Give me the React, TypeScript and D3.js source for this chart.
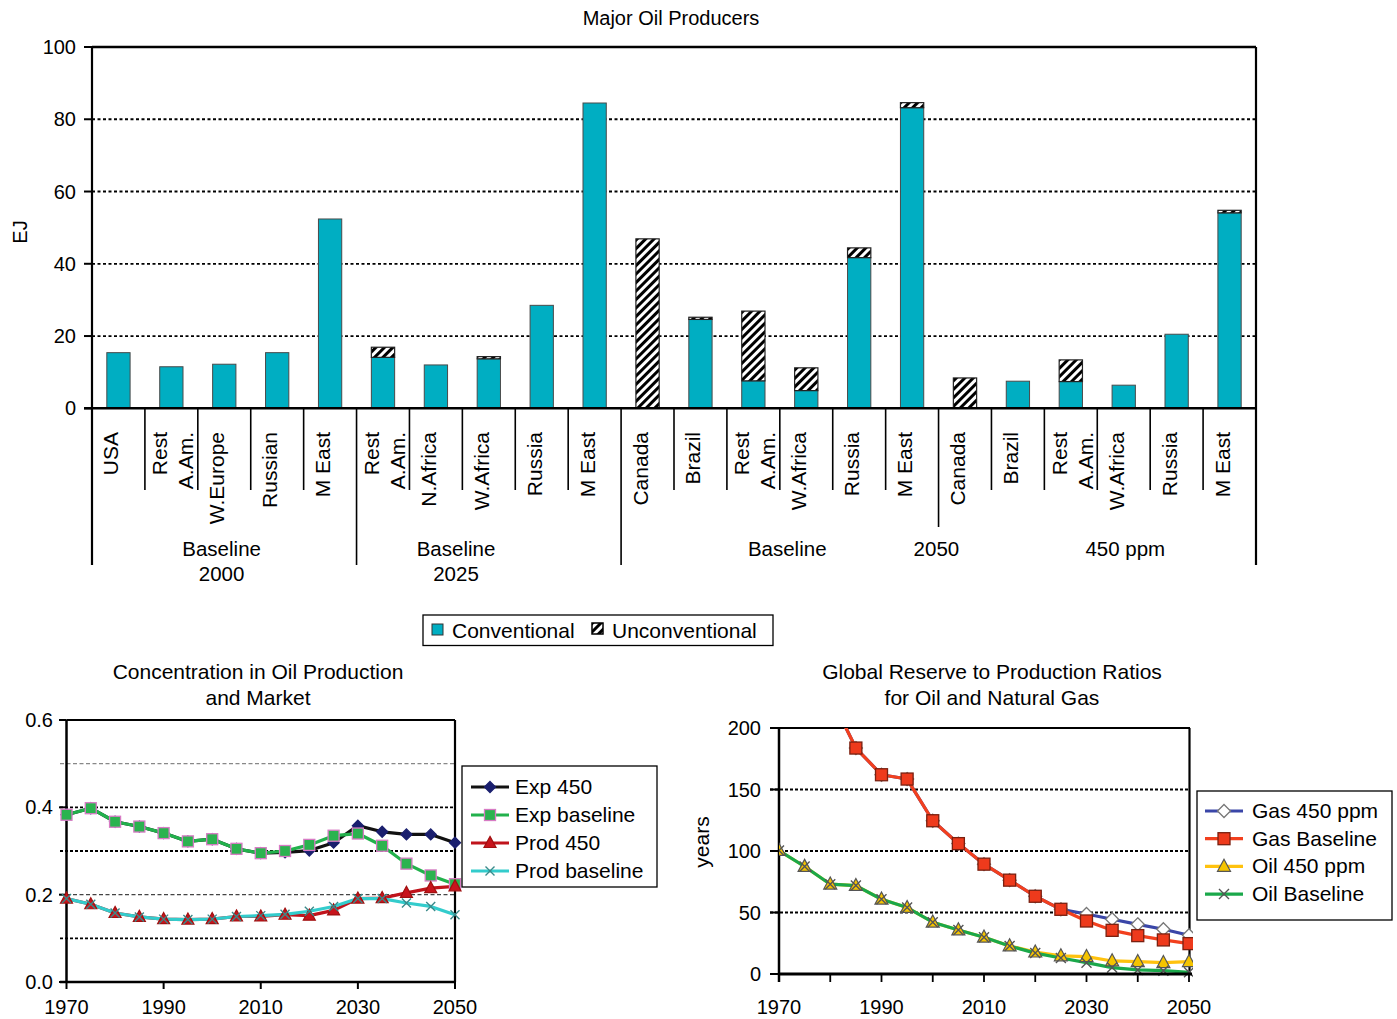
import React from 'react';
import * as d3 from 'd3';

const FONT = '"Liberation Sans", Arial, Helvetica, sans-serif';

// ---------- Top chart data ----------
const producerLabels: string[][] = [
  ['USA'], ['Rest', 'A.Am.'], ['W.Europe'], ['Russian'], ['M East'],
  ['Rest', 'A.Am.'], ['N.Africa'], ['W.Africa'], ['Russia'], ['M East'],
  ['Canada'], ['Brazil'], ['Rest', 'A.Am.'], ['W.Africa'], ['Russia'], ['M East'],
  ['Canada'], ['Brazil'], ['Rest', 'A.Am.'], ['W.Africa'], ['Russia'], ['M East'],
];
const conventional = [15.4, 11.5, 12.2, 15.4, 52.4, 14.1, 12.0, 13.7, 28.5, 84.5, 0, 24.6, 7.6, 4.9, 41.7, 83.2, 0, 7.5, 7.4, 6.4, 20.5, 54.1];
const unconventional = [0, 0, 0, 0, 0, 2.8, 0, 0.6, 0, 0, 46.9, 0.6, 19.3, 6.3, 2.7, 1.4, 8.4, 0, 6.0, 0, 0, 0.7];
const topTicks = [0, 20, 40, 60, 80, 100];
const groupLabelLines: string[][] = [['Baseline', '2000'], ['Baseline', '2025'], ['Baseline'], ['2050'], ['450 ppm']];
const groupLabelAt = [2.45, 6.88, 13.14, 15.96, 19.53];

// ---------- Lower-left data ----------
const years = [1970, 1975, 1980, 1985, 1990, 1995, 2000, 2005, 2010, 2015, 2020, 2025, 2030, 2035, 2040, 2045, 2050];
const exp450 = [0.383, 0.398, 0.367, 0.356, 0.341, 0.322, 0.327, 0.305, 0.295, 0.297, 0.301, 0.319, 0.358, 0.344, 0.338, 0.338, 0.319];
const expBaseline = [0.383, 0.398, 0.367, 0.356, 0.341, 0.322, 0.327, 0.305, 0.295, 0.300, 0.314, 0.335, 0.340, 0.312, 0.271, 0.244, 0.224];
const prod450 = [0.191, 0.178, 0.158, 0.149, 0.144, 0.143, 0.144, 0.150, 0.150, 0.154, 0.152, 0.164, 0.191, 0.192, 0.204, 0.215, 0.219];
const prodBaseline = [0.191, 0.178, 0.158, 0.149, 0.144, 0.143, 0.144, 0.150, 0.152, 0.155, 0.162, 0.173, 0.191, 0.191, 0.181, 0.173, 0.154];
const llYTicks = [0, 0.2, 0.4, 0.6];
const llGrid = [0.1, 0.2, 0.3, 0.4, 0.5];
const llXTicks = [1970, 1990, 2010, 2030, 2050];
const llLegend = ['Exp 450', 'Exp baseline', 'Prod 450', 'Prod baseline'];

// ---------- Lower-right data ----------
const gas450: (number | null)[] = [null, null, 226, 183.7, 162, 158.5, 124.6, 106, 89.3, 76.3, 63.2, 52.6, 48.8, 44.5, 40.4, 36.4, 31.5];
const gasBaseline: (number | null)[] = [null, null, 226, 183.7, 162, 158.5, 124.6, 106, 89.3, 76.3, 63.2, 52.6, 43.1, 35.5, 31.2, 27.7, 24.7];
const oil450 = [100.4, 87.4, 73, 71.9, 60.8, 54, 42.1, 35.8, 29.9, 22.8, 17.8, 14.7, 14.1, 10.6, 10, 9.2, 10];
const oilBaseline = [100.4, 87.4, 73, 71.9, 60.8, 54, 42.1, 35.8, 29.9, 22.8, 17.0, 13.0, 9.2, 5.2, 3.3, 2.7, 1.4];
const lrYTicks = [0, 50, 100, 150, 200];
const lrXTicks = [1970, 1990, 2010, 2030, 2050];
const lrMinorX = [1970, 1980, 1990, 2000, 2010, 2020, 2030, 2040, 2050];
const lrLegend = ['Gas 450 ppm', 'Gas Baseline', 'Oil 450 ppm', 'Oil Baseline'];

const TEAL = '#00aec2';

type MarkerKind = 'diamond' | 'square' | 'triangle' | 'x' | 'whiteDiamond';

function Marker({ kind, x, y, fill, stroke, r }: { kind: MarkerKind; x: number; y: number; fill: string; stroke: string; r: number }) {
  if (kind === 'square') {
    return <rect x={x - r} y={y - r} width={2 * r} height={2 * r} fill={fill} stroke={stroke} strokeWidth={1.3} />;
  }
  if (kind === 'diamond' || kind === 'whiteDiamond') {
    return <path d={`M${x},${y - r}L${x + r},${y}L${x},${y + r}L${x - r},${y}Z`} fill={fill} stroke={stroke} strokeWidth={1.3} />;
  }
  if (kind === 'triangle') {
    return <path d={`M${x},${y - r * 1.1}L${x + r},${y + r * 0.75}L${x - r},${y + r * 0.75}Z`} fill={fill} stroke={stroke} strokeWidth={1.2} />;
  }
  return <path d={`M${x - r},${y - r}L${x + r},${y + r}M${x - r},${y + r}L${x + r},${y - r}`} stroke={stroke} strokeWidth={1.4} fill="none" />;
}

export default function App() {
  const W = 1397, H = 1019;

  // ----- top chart -----
  const tL = 92, tR = 1256, tT = 47, tB = 408.3;
  const xb = d3.scaleBand<number>().domain(d3.range(producerLabels.length)).range([tL, tR]).padding(0);
  const yb = d3.scaleLinear().domain([0, 100]).range([tB, tT]);
  const step = xb.step();
  const barW = step * 0.44;
  const boundaryDepth = (i: number) => (i === 0 || i === 5 || i === 10 || i === 22 ? 565 : i === 16 ? 527 : 490);

  // ----- lower-left -----
  const xl = d3.scaleLinear().domain([1970, 2050]).range([66.5, 455]);
  const yl = d3.scaleLinear().domain([0, 0.6]).range([982, 720]);
  const lineL = d3.line<number>().x((_, i) => xl(years[i])).y((d) => yl(d));

  // ----- lower-right -----
  const xr = d3.scaleLinear().domain([1970, 2050]).range([779, 1189]);
  const yr = d3.scaleLinear().domain([0, 200]).range([974, 728]);
  const lineR = d3.line<number | null>().defined((d) => d != null).x((_, i) => xr(years[i])).y((d) => yr(d as number));

  const llSeries = [
    { data: exp450, color: '#111111', kind: 'diamond' as MarkerKind, mFill: '#1a1f6e', mStroke: '#1a1f6e', r: 5.5 },
    { data: expBaseline, color: '#22b14c', kind: 'square' as MarkerKind, mFill: '#2bb34f', mStroke: '#d77bc4', r: 5.5 },
    { data: prod450, color: '#c0141c', kind: 'triangle' as MarkerKind, mFill: '#c8141c', mStroke: '#a01010', r: 6 },
    { data: prodBaseline, color: '#33cccc', kind: 'x' as MarkerKind, mFill: 'none', mStroke: '#3a8a8a', r: 4.5 },
  ];
  const lrSeries = [
    { data: gas450, color: '#3a46a8', kind: 'whiteDiamond' as MarkerKind, mFill: '#ffffff', mStroke: '#777777', r: 6.5 },
    { data: gasBaseline, color: '#f2401e', kind: 'square' as MarkerKind, mFill: '#ee3a1c', mStroke: '#7a2010', r: 6 },
    { data: oil450, color: '#ffc20e', kind: 'triangle' as MarkerKind, mFill: '#f5c400', mStroke: '#555555', r: 6.5 },
    { data: oilBaseline, color: '#1aa84a', kind: 'x' as MarkerKind, mFill: 'none', mStroke: '#555555', r: 5 },
  ];

  return (
    <svg width={W} height={H} style={{ position: 'absolute', left: 0, top: 0, background: '#fff' }} fontFamily={FONT}>
      <defs>
        <pattern id="hatch" patternUnits="userSpaceOnUse" width="6" height="6" patternTransform="rotate(45)">
          <rect width="6" height="6" fill="#fff" />
          <line x1="1.5" y1="0" x2="1.5" y2="6" stroke="#000" strokeWidth="3" />
        </pattern>
        <clipPath id="lrClip">
          <rect x={779} y={728} width={1189 - 779 + 4} height={974 - 728 + 6} />
        </clipPath>
      </defs>
      <rect x={0} y={0} width={W} height={H} fill="#fff" />

      {/* ================= TOP CHART ================= */}
      <text x={671} y={25} textAnchor="middle" fontSize={20}>Major Oil Producers</text>
      <text transform={`translate(27,${232}) rotate(-90)`} textAnchor="middle" fontSize={20}>EJ</text>

      {/* grid */}
      {topTicks.filter((t) => t > 0 && t < 100).map((t) => (
        <line key={'g' + t} x1={tL} x2={tR} y1={yb(t)} y2={yb(t)} stroke="#000" strokeWidth={1.8} strokeDasharray="3,2.5" />
      ))}
      {/* y ticks */}
      {topTicks.map((t) => (
        <g key={'yt' + t}>
          <line x1={84} x2={tL} y1={yb(t)} y2={yb(t)} stroke="#000" strokeWidth={2} />
          <text x={76} y={yb(t) + 7} textAnchor="end" fontSize={20}>{t}</text>
        </g>
      ))}

      {/* bars */}
      {conventional.map((c, i) => {
        const cx = (xb(i) as number) + step / 2;
        const u = unconventional[i];
        return (
          <g key={'bar' + i}>
            {c > 0 && (
              <rect x={cx - barW / 2} y={yb(c)} width={barW} height={yb(0) - yb(c)} fill={TEAL} stroke="#4a4a4a" strokeWidth={1} />
            )}
            {u > 0 && (
              <rect x={cx - barW / 2} y={yb(c + u)} width={barW} height={yb(c) - yb(c + u)} fill="url(#hatch)" stroke="#222" strokeWidth={1.2} />
            )}
          </g>
        );
      })}

      {/* frame */}
      <line x1={tL} x2={tR} y1={tT} y2={tT} stroke="#000" strokeWidth={2.5} />
      <line x1={84} x2={tR} y1={tB} y2={tB} stroke="#000" strokeWidth={2.5} />
      {d3.range(producerLabels.length + 1).map((i) => {
        const bx = i === producerLabels.length ? tR : (xb(i) as number);
        return (
          <line key={'div' + i} x1={bx} x2={bx} y1={i === 0 || i === producerLabels.length ? tT : tB} y2={boundaryDepth(i)} stroke="#000" strokeWidth={i === 0 || i === producerLabels.length ? 2.2 : 1.6} />
        );
      })}

      {/* category labels */}
      {producerLabels.map((lines, i) => {
        const cx = (xb(i) as number) + step / 2;
        if (lines.length === 1) {
          return (
            <text key={'cl' + i} transform={`translate(${cx},432) rotate(-90)`} textAnchor="end" fontSize={21}>{lines[0]}</text>
          );
        }
        return (
          <g key={'cl' + i}>
            <text transform={`translate(${cx - 4},432) rotate(-90)`} textAnchor="end" fontSize={21}>{lines[0]}</text>
            <text transform={`translate(${cx + 22},432) rotate(-90)`} textAnchor="end" fontSize={21}>{lines[1]}</text>
          </g>
        );
      })}

      {/* group labels */}
      {groupLabelLines.map((lines, gi) => (
        <g key={'gl' + gi}>
          {lines.map((ln, li) => (
            <text key={li} x={tL + groupLabelAt[gi] * step} y={556 + li * 25} textAnchor="middle" fontSize={20.5}>{ln}</text>
          ))}
        </g>
      ))}

      {/* top legend */}
      <rect x={423} y={615} width={350} height={30.5} fill="#fff" stroke="#000" strokeWidth={1.3} />
      <rect x={432} y={624} width={11} height={11} fill={TEAL} stroke="#333" strokeWidth={1} />
      <text x={452} y={637.5} fontSize={21}>Conventional</text>
      <rect x={592} y={623} width={11} height={11} fill="url(#hatch)" stroke="#000" strokeWidth={1.5} />
      <text x={612} y={637.5} fontSize={21}>Unconventional</text>

      {/* ================= LOWER LEFT ================= */}
      <text x={258} y={679} textAnchor="middle" fontSize={21}>Concentration in Oil Production</text>
      <text x={258} y={705} textAnchor="middle" fontSize={21}>and Market</text>
      {llGrid.map((g) => {
        const grey = g === 0.5 || g === 0.2;
        return (
          <line key={'llg' + g} x1={60} x2={455} y1={yl(g)} y2={yl(g)} stroke={grey ? (g === 0.5 ? '#888' : '#444') : '#000'} strokeWidth={grey ? 1.3 : 1.8} strokeDasharray={grey ? '4,2.5' : '3,2'} />
        );
      })}
      {llYTicks.map((t) => (
        <g key={'llyt' + t}>
          <line x1={59} x2={66.5} y1={yl(t)} y2={yl(t)} stroke="#000" strokeWidth={2} />
          <text x={53} y={yl(t) + 7} textAnchor="end" fontSize={20}>{t.toFixed(1)}</text>
        </g>
      ))}
      {llXTicks.map((t) => (
        <g key={'llxt' + t}>
          <line x1={xl(t)} x2={xl(t)} y1={982} y2={989} stroke="#000" strokeWidth={2} />
          <text x={xl(t)} y={1014} textAnchor="middle" fontSize={20}>{t}</text>
        </g>
      ))}
      <line x1={66.5} x2={455} y1={720} y2={720} stroke="#000" strokeWidth={2.2} />
      <line x1={455} x2={455} y1={720} y2={982} stroke="#000" strokeWidth={2.2} />
      <line x1={66.5} x2={66.5} y1={720} y2={982} stroke="#000" strokeWidth={2.5} />
      <line x1={60} x2={455} y1={982} y2={982} stroke="#000" strokeWidth={2.5} />

      {llSeries.map((s, si) => (
        <path key={'lll' + si} d={lineL(s.data) || ''} fill="none" stroke={s.color} strokeWidth={3.2} strokeLinejoin="round" />
      ))}
      {llSeries.map((s, si) => (
        <g key={'llm' + si}>
          {s.data.map((v, i) => (
            <Marker key={i} kind={s.kind} x={xl(years[i])} y={yl(v)} fill={s.mFill} stroke={s.mStroke} r={s.r} />
          ))}
        </g>
      ))}

      {/* lower-left legend */}
      <rect x={462} y={766} width={195} height={121} fill="#fff" stroke="#000" strokeWidth={1.3} />
      {llLegend.map((name, i) => {
        const s = llSeries[i];
        const yy = 787 + i * 28;
        return (
          <g key={'lll' + name}>
            <line x1={471} x2={509} y1={yy} y2={yy} stroke={s.color} strokeWidth={3.2} />
            <Marker kind={s.kind} x={490} y={yy} fill={s.mFill} stroke={s.mStroke} r={s.r} />
            <text x={515} y={yy + 7} fontSize={21}>{name}</text>
          </g>
        );
      })}

      {/* ================= LOWER RIGHT ================= */}
      <text x={992} y={679} textAnchor="middle" fontSize={21}>Global Reserve to Production Ratios</text>
      <text x={992} y={705} textAnchor="middle" fontSize={21}>for Oil and Natural Gas</text>
      <text transform={`translate(709,842) rotate(-90)`} textAnchor="middle" fontSize={21}>years</text>
      {[50, 100, 150].map((g) => (
        <line key={'lrg' + g} x1={770} x2={1189} y1={yr(g)} y2={yr(g)} stroke="#000" strokeWidth={1.8} strokeDasharray="3,2" />
      ))}
      {lrYTicks.map((t) => (
        <g key={'lryt' + t}>
          <line x1={770} x2={779} y1={yr(t)} y2={yr(t)} stroke="#000" strokeWidth={2} />
          <text x={761} y={yr(t) + 7} textAnchor="end" fontSize={20}>{t}</text>
        </g>
      ))}
      {lrMinorX.map((t) => (
        <line key={'lrmx' + t} x1={xr(t)} x2={xr(t)} y1={974} y2={982} stroke="#000" strokeWidth={1.8} />
      ))}
      {lrXTicks.map((t) => (
        <text key={'lrxt' + t} x={xr(t)} y={1014} textAnchor="middle" fontSize={20}>{t}</text>
      ))}
      <line x1={779} x2={1190} y1={728} y2={728} stroke="#000" strokeWidth={2.2} />
      <line x1={1189.5} x2={1189.5} y1={728} y2={974} stroke="#000" strokeWidth={2.2} />
      <line x1={779} x2={779} y1={728} y2={982} stroke="#000" strokeWidth={2.5} />

      <g clipPath="url(#lrClip)">
        {lrSeries.map((s, si) => (
          <path key={'lrl' + si} d={lineR(s.data as (number | null)[]) || ''} fill="none" stroke={s.color} strokeWidth={3.2} strokeLinejoin="round" />
        ))}
        {lrSeries.map((s, si) => (
          <g key={'lrm' + si}>
            {(s.data as (number | null)[]).map((v, i) =>
              v == null || v > 200 ? null : (
                <Marker key={i} kind={s.kind} x={xr(years[i])} y={yr(v)} fill={s.mFill} stroke={s.mStroke} r={s.r} />
              )
            )}
          </g>
        ))}
      </g>
      <line x1={779} x2={1192} y1={974} y2={974} stroke="#000" strokeWidth={3} />

      {/* lower-right legend */}
      <rect x={1197} y={791} width={195} height={129} fill="#fff" stroke="#000" strokeWidth={1.3} />
      {lrLegend.map((name, i) => {
        const s = lrSeries[i];
        const yy = 811 + i * 27.7;
        return (
          <g key={'lrleg' + name}>
            <line x1={1205} x2={1243} y1={yy} y2={yy} stroke={s.color} strokeWidth={3.2} />
            <Marker kind={s.kind} x={1224} y={yy} fill={s.mFill} stroke={s.mStroke} r={s.r} />
            <text x={1252} y={yy + 7} fontSize={21}>{name}</text>
          </g>
        );
      })}
    </svg>
  );
}
